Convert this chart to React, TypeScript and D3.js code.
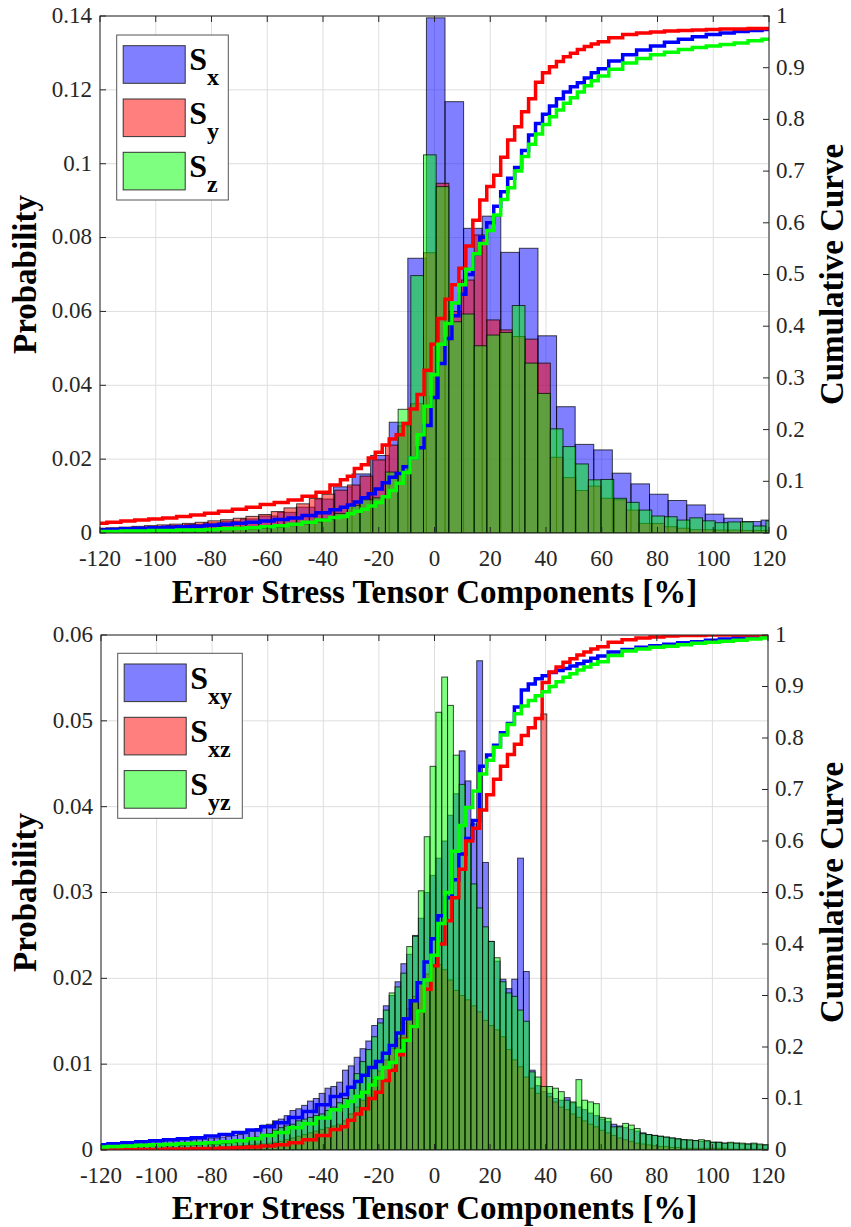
import React from "react";
import * as d3 from "d3";

// ---------------- DATA ----------------
const cdfX = [-120,-115,-110,-105,-100,-95,-90,-85,-80,-75,-70,-65,-60,-55,-50,-45,-40,-35,
  -32.5,-30,-27.5,-25,-22.5,-20,-17.5,-15,-12.5,-10,-7.5,-5,-2.5,0,2.5,5,7.5,10,12.5,15,17.5,20,
  22.5,25,27.5,30,32.5,35,37.5,40,42.5,45,47.5,50,52.5,55,57.5,60,
  65,70,75,80,85,90,95,100,105,110,115,120];
const xTickValues = [-120,-100,-80,-60,-40,-20,0,20,40,60,80,100,120];
const topYTicks = [0,0.02,0.04,0.06,0.08,0.1,0.12,0.14];
const botYTicks = [0,0.01,0.02,0.03,0.04,0.05,0.06];
const cdfTicks = [0,0.1,0.2,0.3,0.4,0.5,0.6,0.7,0.8,0.9,1];
const topLegend = ["x","y","z"];
const botLegend = ["xy","xz","yz"];
const COLORS = ["#0000ff","#ff0000","#00ff00"];

// Top panel: normal components
const topSxStart = -122.96;
const topSxWidth = 6.67;
const topSx = [0.0012,0.0013,0.0015,0.0017,0.002,0.0023,0.0027,0.0032,0.0038,0.0046,
  0.0056,0.007,0.0092,0.0125,0.016,0.021,0.030,0.0744,0.1395,0.1168,
  0.0825,0.0858,0.076,0.0771,0.0534,0.0342,0.024,0.0225,0.0162,0.0133,
  0.0105,0.0088,0.0076,0.0051,0.004,0.0031,0.0035];
const topSyzStart = -122.25;
const topSyzWidth = 4.55;
const topSy = [0.0013,0.0014,0.0016,0.0018,0.002,0.0022,0.0024,0.0026,0.0029,0.0033,
  0.0036,0.004,0.0045,0.005,0.0058,0.0068,0.0079,0.0094,0.0105,0.0116,
  0.013,0.0154,0.0198,0.0238,0.029,0.035,0.0759,0.0947,0.060,0.0685,
  0.0807,0.0577,0.055,0.0532,0.0525,0.046,0.0205,0.015,0.0115,0.0127,
  0.0094,0.009,0.0062,0.0026,0.0026,0.0017,0.0013,0.0009,0.0009,0.0008,
  0.0008,0.0007,0.0007,0.0007];
const topSz = [0.0005,0.0005,0.0005,0.0006,0.0006,0.0006,0.0007,0.0007,0.0008,0.0008,
  0.0009,0.001,0.0011,0.0013,0.0016,0.002,0.0025,0.003,0.0038,0.0053,
  0.0075,0.009,0.0095,0.0165,0.0335,0.0697,0.1024,0.0938,0.0572,0.0593,
  0.0507,0.0536,0.0543,0.0616,0.046,0.0378,0.0282,0.0234,0.0187,0.0144,
  0.0145,0.0094,0.0083,0.0062,0.0046,0.0044,0.0035,0.0041,0.0033,0.0028,
  0.003,0.003,0.0019,0.0033];
const topCdfSx = [0.006,0.007,0.008,0.009,0.010,0.011,0.012,0.013,0.015,0.017,0.019,0.021,0.023,0.026,0.029,0.034,0.039,0.045,
  0.050,0.054,0.060,0.068,0.076,0.085,0.097,0.108,0.115,0.128,0.145,0.165,0.208,0.262,0.328,0.376,0.420,0.462,
  0.500,0.540,0.572,0.600,0.632,0.660,0.686,0.707,0.740,0.770,0.792,0.810,0.826,0.840,0.853,0.863,0.871,0.880,0.890,0.898,
  0.913,0.925,0.934,0.942,0.949,0.955,0.960,0.964,0.967,0.970,0.972,0.974];
const topCdfSy = [0.019,0.021,0.023,0.025,0.027,0.029,0.032,0.035,0.038,0.042,0.046,0.050,0.055,0.059,0.064,0.071,0.079,0.093,
  0.103,0.110,0.125,0.132,0.145,0.156,0.170,0.182,0.190,0.212,0.240,0.268,0.315,0.365,0.415,0.452,0.480,0.512,
  0.555,0.605,0.644,0.670,0.692,0.727,0.760,0.786,0.815,0.840,0.872,0.890,0.902,0.912,0.921,0.928,0.935,0.941,0.946,0.950,
  0.958,0.964,0.967,0.969,0.971,0.972,0.973,0.974,0.975,0.975,0.976,0.976];
const topCdfSz = [0.003,0.003,0.004,0.004,0.005,0.005,0.006,0.006,0.007,0.008,0.009,0.010,0.012,0.014,0.017,0.021,0.025,0.030,
  0.032,0.037,0.042,0.046,0.052,0.059,0.070,0.082,0.096,0.117,0.145,0.190,0.245,0.306,0.365,0.405,0.445,0.480,
  0.510,0.540,0.560,0.585,0.615,0.645,0.668,0.700,0.728,0.752,0.772,0.790,0.805,0.818,0.831,0.842,0.853,0.865,0.875,0.884,
  0.897,0.909,0.918,0.925,0.930,0.935,0.939,0.942,0.945,0.948,0.952,0.955];

// Bottom panel: shear components
const botStart = -121.3;
const botWidth = 2.1;
const botSxy = [0.0007,0.0007,0.0008,0.0008,0.0008,0.0009,0.0009,0.0009,0.001,0.001,
  0.001,0.0011,0.0011,0.0011,0.0012,0.0012,0.0012,0.0013,0.0013,0.0014,
  0.0014,0.0015,0.0016,0.0017,0.0018,0.002,0.0022,0.0025,0.0029,0.003,
  0.0034,0.0036,0.004,0.0046,0.0048,0.0052,0.0057,0.006,0.0066,0.0072,
  0.0074,0.0079,0.0093,0.0098,0.0108,0.0118,0.0127,0.0145,0.0153,0.0168,
  0.018,0.0196,0.0217,0.0228,0.025,0.027,0.030,0.032,0.034,0.036,
  0.039,0.0415,0.0465,0.043,0.038,0.057,0.0335,0.0243,0.022,0.0199,
  0.0188,0.0199,0.034,0.0208,0.0093,0.0075,0.0068,0.0066,0.006,0.0058,
  0.0061,0.0055,0.005,0.0047,0.0043,0.004,0.0036,0.0033,0.003,0.0028,
  0.0026,0.0024,0.0022,0.002,0.0018,0.0017,0.0016,0.0015,0.0014,0.0013,
  0.0012,0.0011,0.0011,0.001,0.001,0.0009,0.0009,0.0008,0.0008,0.0008,
  0.0007,0.0007,0.0007,0.0006,0.0006];
const botSxz = [0.0001,0.0001,0.0001,0.0001,0.0001,0.0001,0.0001,0.0001,0.0001,0.0001,
  0.0002,0.0002,0.0002,0.0002,0.0002,0.0002,0.0002,0.0002,0.0002,0.0002,
  0.0003,0.0003,0.0004,0.0004,0.0005,0.0005,0.0006,0.0007,0.0007,0.0008,
  0.0009,0.001,0.0012,0.0014,0.0016,0.0018,0.002,0.0022,0.0024,0.0026,
  0.0028,0.003,0.0034,0.0042,0.005,0.0058,0.007,0.0082,0.0092,0.0105,
  0.0118,0.013,0.0148,0.0165,0.0179,0.0195,0.0205,0.0214,0.0216,0.021,
  0.0198,0.0186,0.018,0.0175,0.0168,0.0161,0.0151,0.0145,0.014,0.0132,
  0.0117,0.0105,0.0097,0.0085,0.0072,0.0066,0.0508,0.0062,0.0056,0.005,
  0.0047,0.0042,0.0038,0.0034,0.003,0.0027,0.0023,0.002,0.0017,0.0014,
  0.0012,0.001,0.0008,0.0007,0.0006,0.0005,0.0004,0.0004,0.0003,0.0003,
  0.0002,0.0002,0.0002,0.0002,0.0002,0.0002,0.0002,0.0002,0.0001,0.0001,
  0.0001,0.0001,0.0001,0.0001,0.0001];
const botSyz = [0.0004,0.0004,0.0004,0.0005,0.0004,0.0005,0.0005,0.0004,0.0005,0.0005,
  0.0005,0.0005,0.0005,0.0006,0.0005,0.0006,0.0006,0.0006,0.0007,0.0007,
  0.0007,0.0008,0.0008,0.0009,0.001,0.0011,0.0013,0.0015,0.0017,0.0019,
  0.0023,0.0026,0.0028,0.003,0.0034,0.0036,0.0038,0.004,0.0042,0.0046,
  0.005,0.0055,0.006,0.0074,0.0089,0.0103,0.0117,0.0132,0.0148,0.0163,
  0.0183,0.019,0.0206,0.0237,0.0249,0.0302,0.0365,0.0447,0.051,0.0551,
  0.0518,0.046,0.0426,0.036,0.031,0.0282,0.026,0.0243,0.0224,0.0196,
  0.0183,0.0179,0.0163,0.015,0.0091,0.0085,0.0074,0.0074,0.0072,0.0068,
  0.0058,0.0056,0.0082,0.0058,0.0056,0.0054,0.0038,0.0037,0.0027,0.0027,
  0.0031,0.0029,0.0025,0.0019,0.0018,0.0017,0.0016,0.0015,0.0014,0.0013,
  0.0012,0.0012,0.0011,0.0012,0.0011,0.0009,0.0009,0.0008,0.0009,0.0008,
  0.0008,0.0007,0.0008,0.0007,0.0006];
const botCdfSxy = [0.010,0.012,0.014,0.016,0.018,0.020,0.022,0.024,0.027,0.030,0.034,0.039,0.045,0.053,0.063,0.075,0.088,0.104,
  0.108,0.122,0.133,0.145,0.160,0.172,0.188,0.203,0.227,0.255,0.290,0.325,0.365,0.410,0.455,0.490,0.525,0.575,
  0.605,0.640,0.745,0.767,0.786,0.810,0.828,0.860,0.893,0.905,0.915,0.921,0.927,0.931,0.935,0.940,0.944,0.949,0.955,0.959,
  0.967,0.972,0.976,0.979,0.982,0.985,0.987,0.990,0.992,0.995,0.997,0.999];
const botCdfSxz = [0.000,0.000,0.001,0.001,0.001,0.002,0.002,0.003,0.003,0.004,0.005,0.006,0.008,0.010,0.014,0.020,0.028,0.040,
  0.045,0.058,0.070,0.080,0.100,0.112,0.135,0.155,0.185,0.215,0.240,0.270,0.312,0.358,0.400,0.445,0.490,0.545,
  0.600,0.625,0.660,0.690,0.720,0.745,0.768,0.788,0.805,0.820,0.838,0.908,0.928,0.938,0.947,0.954,0.961,0.967,0.973,0.977,
  0.986,0.991,0.994,0.996,0.998,0.999,0.999,1.000,1.000,1.000,1.000,1.000];
const botCdfSyz = [0.006,0.007,0.008,0.009,0.010,0.011,0.012,0.013,0.014,0.016,0.018,0.022,0.028,0.034,0.043,0.051,0.062,0.078,
  0.085,0.094,0.104,0.112,0.126,0.140,0.160,0.170,0.192,0.213,0.240,0.270,0.330,0.378,0.440,0.500,0.580,0.630,
  0.665,0.697,0.730,0.757,0.782,0.806,0.826,0.847,0.862,0.873,0.882,0.890,0.900,0.909,0.918,0.925,0.932,0.938,0.943,0.948,
  0.960,0.969,0.973,0.976,0.978,0.981,0.984,0.986,0.988,0.990,0.992,0.994];

// ---------------- RENDER ----------------
const FONT = "'Liberation Serif', 'Times New Roman', Times, serif";

type Hist = { values: number[]; start: number; width: number; color: string };

function fmt(v: number) {
  return String(+v.toFixed(3));
}

function Panel(props: any) {
  const { id, x0, x1, y0, y1, yMax, yTicks, hists, cdfs, legendSubs, legendBox, tickLabelY, xLabelY } = props;
  const x = d3.scaleLinear().domain([-120, 120]).range([x0, x1]);
  const y = d3.scaleLinear().domain([0, yMax]).range([y1, y0]);
  const yr = d3.scaleLinear().domain([0, 1]).range([y1, y0]);
  const line = d3.line<number>().x((_, i) => x(cdfX[i])).y((d) => yr(d)).curve(d3.curveStep);
  const clipId = `clip-${id}`;
  const tick = 6;
  const axisColor = "#262626";
  const gridColor = "#dedede";
  const [lx, ly, lw, lh] = legendBox;
  const cy = (y0 + y1) / 2;
  const cx = (x0 + x1) / 2;
  const tfs = 23;
  return (
    <g>
      <defs>
        <clipPath id={clipId}>
          <rect x={x0} y={y0} width={x1 - x0} height={y1 - y0} />
        </clipPath>
      </defs>
      <rect x={x0} y={y0} width={x1 - x0} height={y1 - y0} fill="#fff" />
      {xTickValues.map((t) => (
        <line key={"gx" + t} x1={x(t)} x2={x(t)} y1={y0} y2={y1} stroke={gridColor} strokeWidth={1} />
      ))}
      {yTicks.map((t: number) => (
        <line key={"gy" + t} x1={x0} x2={x1} y1={y(t)} y2={y(t)} stroke={gridColor} strokeWidth={1} />
      ))}
      <g clipPath={`url(#${clipId})`}>
        {hists.map((h: Hist, si: number) =>
          h.values.map((v, i) => {
            const a = h.start + i * h.width;
            const b = a + h.width;
            return (
              <rect
                key={`h${si}-${i}`}
                x={x(a)}
                y={y(v)}
                width={x(b) - x(a)}
                height={y(0) - y(v)}
                fill={h.color}
                fillOpacity={0.5}
                stroke="#000"
                strokeOpacity={0.72}
                strokeWidth={1}
              />
            );
          })
        )}
        {cdfs.map((c: number[], si: number) => (
          <path key={"c" + si} d={line(c) || ""} fill="none" stroke={COLORS[si]} strokeWidth={3.5} />
        ))}
      </g>
      <rect x={x0} y={y0} width={x1 - x0} height={y1 - y0} fill="none" stroke={axisColor} strokeWidth={1} />
      {xTickValues.map((t) => (
        <g key={"xt" + t}>
          <line x1={x(t)} x2={x(t)} y1={y1} y2={y1 - tick} stroke={axisColor} />
          <line x1={x(t)} x2={x(t)} y1={y0} y2={y0 + tick} stroke={axisColor} />
          <text x={x(t)} y={tickLabelY} textAnchor="middle" fontSize={tfs} fontFamily={FONT} fill="#262626">
            {t}
          </text>
        </g>
      ))}
      {yTicks.map((t: number) => (
        <g key={"yt" + t}>
          <line x1={x0} x2={x0 + tick} y1={y(t)} y2={y(t)} stroke={axisColor} />
          <text x={x0 - 8} y={y(t)} dy="0.3em" textAnchor="end" fontSize={tfs} fontFamily={FONT} fill="#262626">
            {fmt(t)}
          </text>
        </g>
      ))}
      {cdfTicks.map((t) => (
        <g key={"rt" + t}>
          <line x1={x1} x2={x1 - tick} y1={yr(t)} y2={yr(t)} stroke={axisColor} />
          <text x={x1 + 7} y={yr(t)} dy="0.3em" textAnchor="start" fontSize={tfs} fontFamily={FONT} fill="#262626">
            {fmt(t)}
          </text>
        </g>
      ))}
      <text x={cx} y={xLabelY} textAnchor="middle" fontSize={33} fontWeight="bold" fontFamily={FONT} fill="#000">
        Error Stress Tensor Components [%]
      </text>
      <text
        transform={`translate(36,${cy}) rotate(-90)`}
        textAnchor="middle"
        fontSize={33}
        fontWeight="bold"
        fontFamily={FONT}
        fill="#000"
      >
        Probability
      </text>
      <text
        transform={`translate(843,${cy}) rotate(-90)`}
        textAnchor="middle"
        fontSize={33}
        fontWeight="bold"
        fontFamily={FONT}
        fill="#000"
      >
        Cumulative Curve
      </text>
      <rect x={lx} y={ly} width={lw} height={lh} fill="#fff" stroke="#555" strokeWidth={1} />
      {legendSubs.map((s: string, i: number) => {
        const py = ly + 10.7 + i * 53.3;
        const px = lx + 6.5;
        return (
          <g key={"lg" + i}>
            <rect x={px} y={py} width={62} height={37.6} fill={COLORS[i]} fillOpacity={0.5} stroke="#333" strokeWidth={1} />
            <text x={px + 66} y={py + 24.5} fontSize={32} fontWeight="bold" fontFamily={FONT} fill="#000">
              S
              <tspan fontSize={24} dy={15}>
                {s}
              </tspan>
            </text>
          </g>
        );
      })}
    </g>
  );
}

export default function App() {
  const topHists: Hist[] = [
    { values: topSx, start: topSxStart, width: topSxWidth, color: COLORS[0] },
    { values: topSy, start: topSyzStart, width: topSyzWidth, color: COLORS[1] },
    { values: topSz, start: topSyzStart, width: topSyzWidth, color: COLORS[2] },
  ];
  const botHists: Hist[] = [
    { values: botSxy, start: botStart, width: botWidth, color: COLORS[0] },
    { values: botSxz, start: botStart, width: botWidth, color: COLORS[1] },
    { values: botSyz, start: botStart, width: botWidth, color: COLORS[2] },
  ];
  return (
    <svg width={851} height={1227} style={{ position: "absolute", left: 0, top: 0, background: "#fff" }}>
      <rect x={0} y={0} width={851} height={1227} fill="#fff" />
      <Panel
        id="top"
        x0={100}
        x1={769}
        y0={16}
        y1={533}
        yMax={0.14}
        yTicks={topYTicks}
        hists={topHists}
        cdfs={[topCdfSx, topCdfSy, topCdfSz]}
        legendSubs={topLegend}
        legendBox={[116.7, 35, 111.6, 165]}
        tickLabelY={566}
        xLabelY={603}
      />
      <Panel
        id="bot"
        x0={101}
        x1={768}
        y0={635}
        y1={1150}
        yMax={0.06}
        yTicks={botYTicks}
        hists={botHists}
        cdfs={[botCdfSxy, botCdfSxz, botCdfSyz]}
        legendSubs={botLegend}
        legendBox={[117.7, 653.3, 124.6, 165]}
        tickLabelY={1183}
        xLabelY={1219}
      />
    </svg>
  );
}
